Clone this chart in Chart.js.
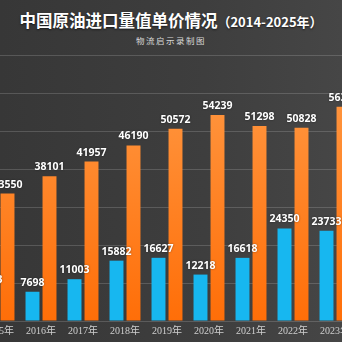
<!DOCTYPE html>
<html>
<head>
<meta charset="utf-8">
<script src="https://cdn.jsdelivr.net/npm/chart.js@4.4.1/dist/chart.umd.min.js"></script>
<style>
  html, body { margin: 0; padding: 0; }
  body {
    width: 342px; height: 342px; overflow: hidden; position: relative;
    background: linear-gradient(90deg, #373737 0%, #3e3e3e 60%, #464646 100%);
  }
  #title {
    position: absolute; left: 0; top: 8px; width: 342px; text-align: center;
    color: #fff; font-family: "Noto Sans CJK SC", sans-serif; font-weight: bold;
    font-size: 16.5px; white-space: nowrap; text-shadow: 0 1px 2px rgba(0,0,0,0.6);
  }
  #title small { font-size: 13px; }
  #sub {
    position: absolute; left: 0; top: 34px; width: 342px; text-align: center;
    color: #d8d8d8; font-family: "Noto Sans CJK SC", sans-serif; font-size: 8.5px;
    letter-spacing: 1.5px;
  }
  #wrap { position: absolute; left: -22px; top: 0; width: 378px; height: 341px; }
</style>
</head>
<body>
<div id="title">中国原油进口量值单价情况<small>（2014-2025年）</small></div>
<div id="sub">物流启示录制图</div>
<div id="wrap"><canvas id="chartjs"></canvas></div>
<script>
/*==== data ====*/
const years = ['2015年', '2016年', '2017年', '2018年', '2019年', '2020年', '2021年', '2022年', '2023年'];
// import value (blue)
const importValue = [8373, 7698, 11003, 15882, 16627, 12218, 16618, 24350, 23733];
// import volume (orange)
const importVolume = [33550, 38101, 41957, 46190, 50572, 54239, 51298, 50828, 56399];

/*==== value labels above bars ====*/
const barLabels = {
    id: 'barLabels',
    afterDatasetsDraw(chart) {
        const ctx = chart.ctx;
        ctx.save();
        ctx.font = 'bold 10.5px "Noto Sans", sans-serif';
        ctx.fillStyle = '#ffffff';
        ctx.textAlign = 'center';
        ctx.textBaseline = 'alphabetic';
        ctx.shadowColor = 'rgba(0,0,0,0.5)';
        ctx.shadowBlur = 2;
        chart.data.datasets.forEach((ds, i) => {
            chart.getDatasetMeta(i).data.forEach((bar, j) => {
                ctx.fillText(String(ds.data[j]), bar.x, bar.y - 6);
            });
        });
        ctx.restore();
    }
};

function orangeFill(context) {
    const area = context.chart.chartArea;
    if (!area) return '#ff7b17';
    const g = context.chart.ctx.createLinearGradient(0, area.top, 0, area.bottom);
    g.addColorStop(0, '#ff9c48');
    g.addColorStop(1, '#ff6e08');
    return g;
}

new Chart(document.querySelector('#chartjs'), {
    type: 'bar',
    data: {
        labels: years,
        datasets: [
            {
                label: '进口额',
                data: importValue,
                backgroundColor: '#17b7f0',
                categoryPercentage: 0.81,
                barPercentage: 0.82
            },
            {
                label: '进口量',
                data: importVolume,
                backgroundColor: orangeFill,
                categoryPercentage: 0.81,
                barPercentage: 0.82
            }
        ]
    },
    options: {
        responsive: true,
        maintainAspectRatio: false,
        animation: false,
        layout: { padding: { top: 55, left: 0, right: 0, bottom: 0 } },
        plugins: {
            legend: { display: false },
            tooltip: { enabled: false }
        },
        scales: {
            x: {
                grid: { display: false, drawTicks: false },
                border: { display: false },
                ticks: {
                    color: '#cfcfcf',
                    padding: 4,
                    font: { family: '"Liberation Serif", "Noto Sans CJK SC", serif', size: 10 }
                }
            },
            y: {
                min: 0,
                max: 70000,
                afterFit(scale) { scale.width = 0; },
                ticks: { display: false, stepSize: 10000 },
                border: { display: false },
                grid: { color: 'rgba(255,255,255,0.16)', lineWidth: 1, drawTicks: false }
            }
        }
    },
    plugins: [barLabels]
});
</script>
</body>
</html>
